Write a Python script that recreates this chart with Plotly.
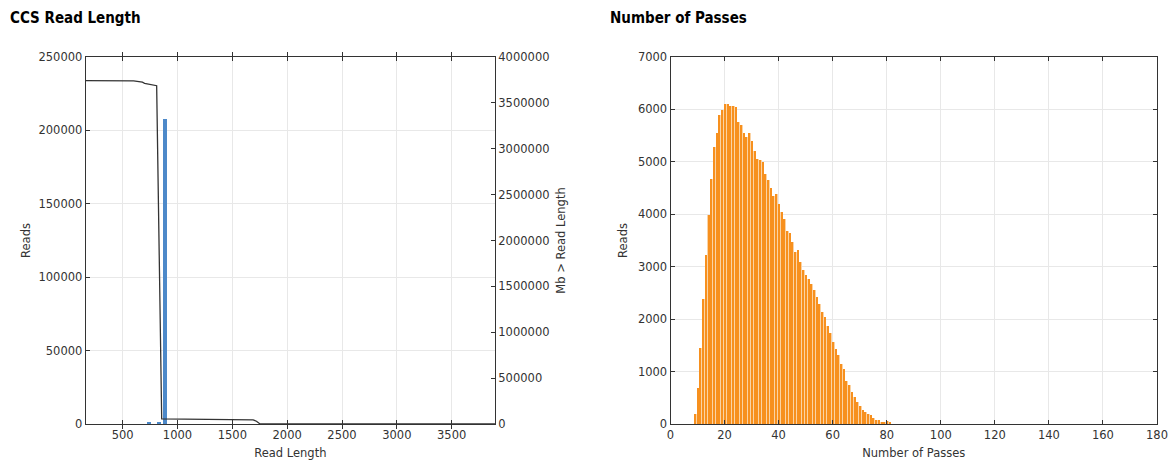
import plotly.graph_objects as go

# ---- Data: CCS read length ----
len_bins = [740, 828, 886]
len_reads = [700, 1200, 208000]
cum_len = [163, 600, 680, 700, 810, 856, 1690, 1720, 1750, 3895]
cum_mb = [3742000, 3740000, 3725000, 3713000, 3687000, 55000, 45000, 30000, 3000, 0]

# ---- Data: number of passes ----
passes = list(range(9, 82))
pass_reads = [200, 680, 1450, 2380, 3230, 3990, 4680, 5280, 5550, 5890, 5980,
              6110, 6100, 6065, 6065, 6040, 5754, 5703, 5558, 5475, 5545,
              5399, 5209, 5063, 5032, 5000, 4778, 4645, 4506, 4354, 4379,
              4195, 4049, 3910, 3688, 3644, 3466, 3276, 3314, 3099, 2934,
              2833, 2769, 2674, 2560, 2421, 2288, 2136, 2041, 1869, 1743,
              1565, 1439, 1312, 1153, 1046, 824, 741, 602, 520, 425,
              336, 266, 234, 184, 165, 108, 82, 76, 44, 44, 57, 44]

len_ticks = [500, 1000, 1500, 2000, 2500, 3000, 3500]

W, H = 1172, 463
def fx(p):
    return p / W
def fy(p):
    return 1 - p / H

TICKFONT = dict(family="DejaVu Sans", size=11.5, color="#333333")
AX = dict(showline=True, linecolor="#333333", linewidth=1, mirror="allticks",
          ticks="inside", ticklen=4, tickcolor="#333333", tickfont=TICKFONT,
          showgrid=True, gridcolor="#e8e8e8", gridwidth=1, zeroline=False,
          tickformat="d", title_font=TICKFONT, automargin=False)

fig = go.Figure()

fig.add_trace(go.Bar(x=len_bins, y=len_reads, width=34, marker_color="#4D89C9",
                     marker_line_width=0, xaxis="x", yaxis="y", showlegend=False))
fig.add_trace(go.Scatter(x=cum_len, y=cum_mb, mode="lines",
                         line=dict(color="#333333", width=1.3),
                         xaxis="x", yaxis="y2", showlegend=False))

fig.add_trace(go.Bar(x=passes, y=pass_reads, width=1.0, marker_color="#FBD3A4",
                     marker_line_width=0, xaxis="x2", yaxis="y3", showlegend=False))
fig.add_trace(go.Bar(x=passes, y=pass_reads, width=0.55, marker_color="#F7901E",
                     marker_line_width=0, xaxis="x2", yaxis="y3", showlegend=False))

y_dom = [fy(424), fy(57)]
TITLEFONT = dict(family="DejaVu Sans Condensed, Liberation Sans Narrow, Roboto, sans-serif",
                 size=15, color="black")
fig.update_layout(
    template="none",
    width=W, height=H, margin=dict(l=0, r=0, t=0, b=0, autoexpand=False),
    paper_bgcolor="white", plot_bgcolor="white", barmode="overlay", bargap=0,
    xaxis=dict(AX, domain=[fx(85.7), fx(495)], range=[163, 3895],
               tickvals=len_ticks, anchor="y",
               title=dict(text="Read Length", standoff=8)),
    yaxis=dict(AX, domain=y_dom, range=[0, 250000], dtick=50000, anchor="x",
               mirror=False, title=dict(text="Reads", standoff=5)),
    yaxis2=dict(AX, overlaying="y", side="right", range=[0, 4000000], dtick=500000,
                anchor="x", showgrid=False, mirror=False,
                title=dict(text="Mb > Read Length", standoff=8)),
    xaxis2=dict(AX, domain=[fx(670.5), fx(1157)], range=[0, 180], dtick=20,
                anchor="y3", title=dict(text="Number of Passes", standoff=8)),
    yaxis3=dict(AX, domain=y_dom, range=[0, 7000], dtick=1000, anchor="x2",
                title=dict(text="Reads", standoff=7)),
    annotations=[
        dict(text="<b>CCS Read Length</b>", x=fx(8), y=fy(18), xref="paper", yref="paper",
             xanchor="left", yanchor="middle", showarrow=False, font=TITLEFONT),
        dict(text="<b>Number of Passes</b>", x=fx(608), y=fy(18), xref="paper", yref="paper",
             xanchor="left", yanchor="middle", showarrow=False, font=TITLEFONT),
    ],
)

fig.write_html("out.html")
